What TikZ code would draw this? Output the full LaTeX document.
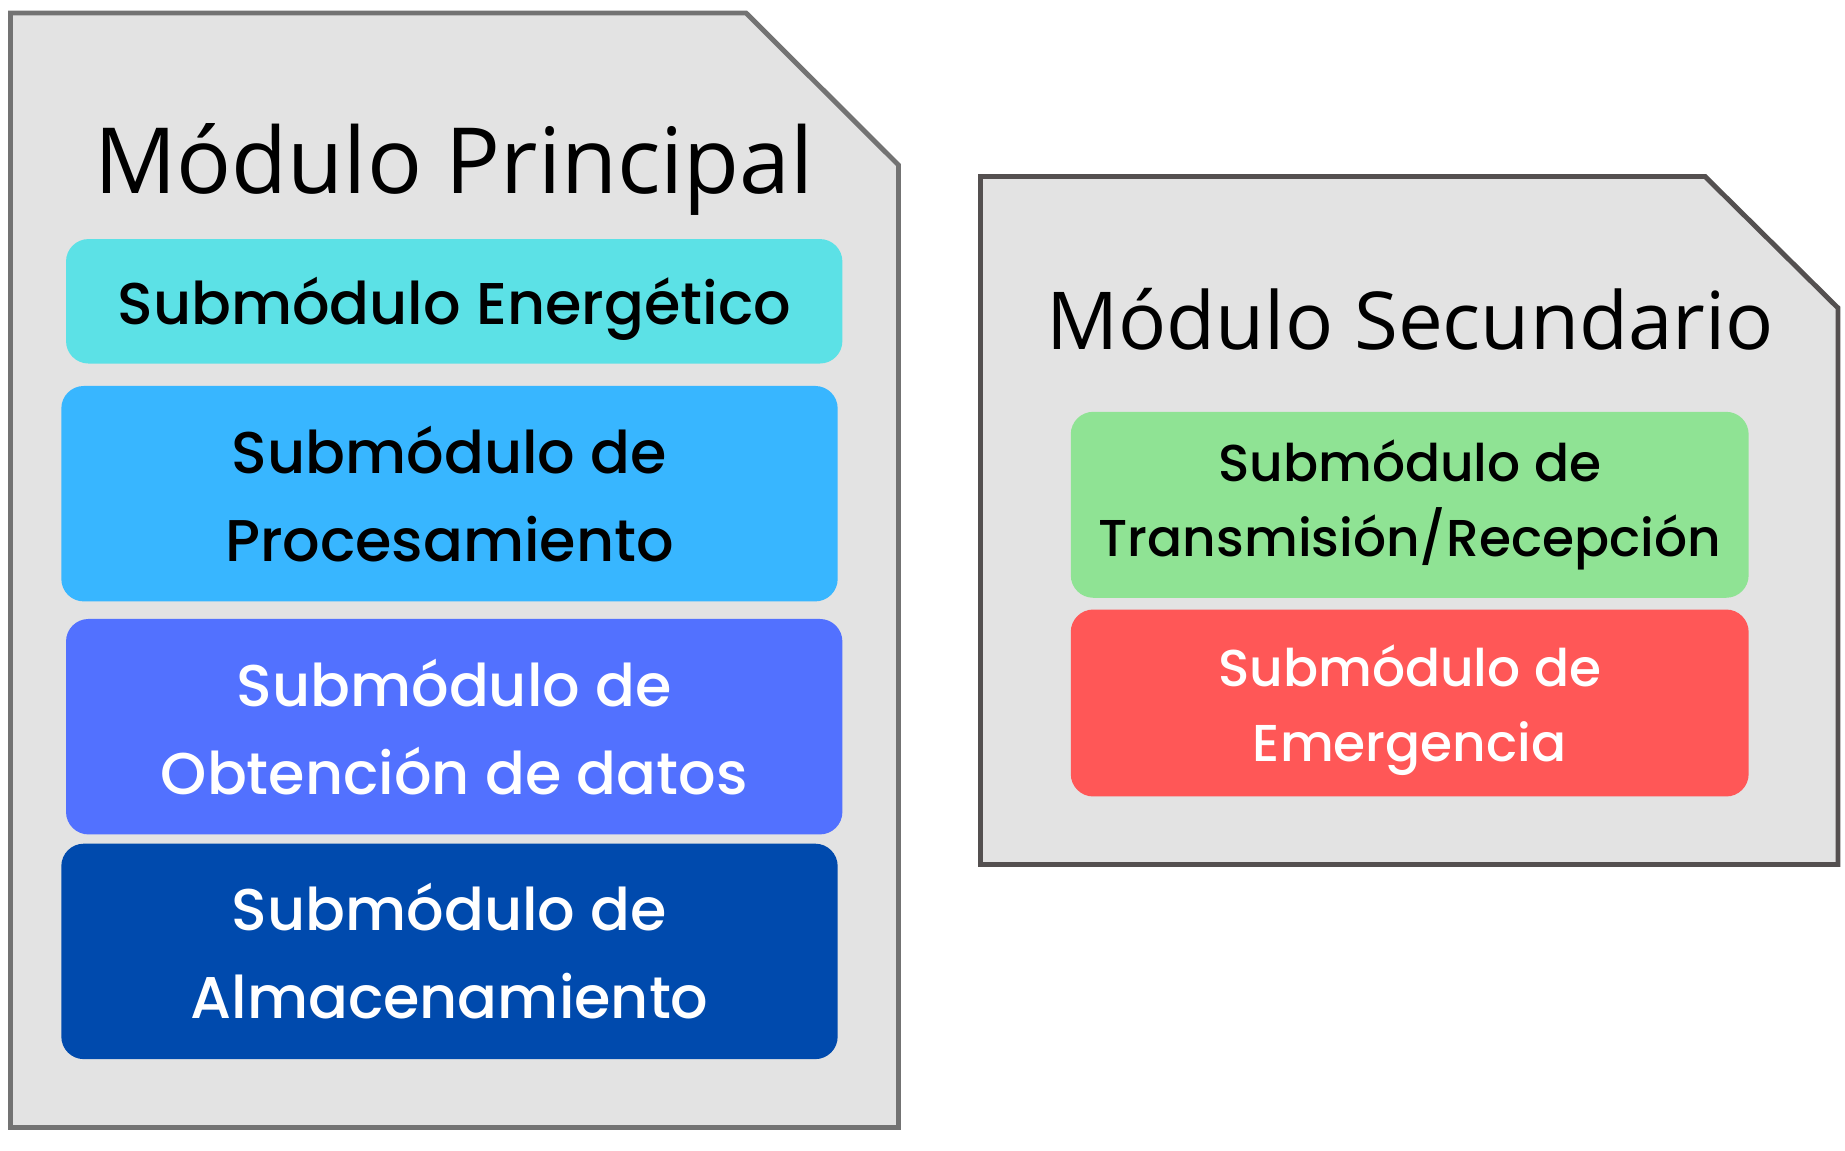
\documentclass[tikz,border=0pt]{standalone}
\usepackage{fontspec}
\newfontfamily\titlefont{Open Sans}
\newfontfamily\subfont{Poppins Medium}
\definecolor{panelgray}{HTML}{E3E3E3}
\definecolor{leftline}{HTML}{737373}
\definecolor{rightline}{HTML}{545050}
\definecolor{energia}{HTML}{5CE1E6}
\definecolor{proceso}{HTML}{38B6FF}
\definecolor{datos}{HTML}{5271FF}
\definecolor{almacen}{HTML}{004AAD}
\definecolor{transm}{HTML}{8FE394}
\definecolor{emerg}{HTML}{FF5757}
\begin{document}
\begin{tikzpicture} [
   x=0.02cm, y=-0.02cm,
   panel/.style={line width=2.8pt, fill=panelgray, line join=miter},
   title/.style={anchor=base, inner sep=0pt},
   sub/.style={rounded corners=0.45cm, align=center, inner sep=0pt,
               minimum width=15.53cm, minimum height=4.31cm,
               font=\subfont\fontsize{33.5}{50}\selectfont},
   subsec/.style={sub, minimum width=13.56cm, font=\subfont\fontsize{29.5}{43}\selectfont}
]
   \useasboundingbox (0,0) rectangle (1845,1151);
   % modulo principal
   \draw [panel, draw=leftline] (10.5,13) -- (746,13) -- (898.5,165) -- (898.5,1127.5)
      -- (10.5,1127.5) -- cycle;
   \node (tprin) [title, font=\titlefont\fontsize{52}{60}\selectfont] at (454,194)
      {Módulo Principal};
   \node (ener) [sub, fill=energia, minimum height=2.49cm, text depth=0pt] at (454.2,301.3)
      {Submódulo Energético};
   \node (proc) [sub, fill=proceso] at (449.5,493.7) {Submódulo de\\Procesamiento};
   \node (obte) [sub, fill=datos, text=white] at (454.2,726.7)
      {Submódulo de\\Obtención de datos};
   \node (alma) [sub, fill=almacen, text=white] at (449.5,951.4)
      {Submódulo de\\Almacenamiento};
   % modulo secundario
   \draw [panel, draw=rightline] (980.5,176.5) -- (1705,176.5) -- (1838,308) -- (1838,864.5)
      -- (980.5,864.5) -- cycle;
   \node (tsec) [title, font=\titlefont\fontsize{45.5}{50}\selectfont] at (1410,349.5)
      {Módulo Secundario};
   \node (tran) [subsec, fill=transm, minimum height=3.72cm] at (1409.7,504.8)
      {Submódulo de\\Transmisión/Recepción};
   \node (emer) [subsec, fill=emerg, text=white, minimum height=3.74cm, text depth=0pt]
      at (1409.7,703) {Submódulo de\\Emergencia};
\end{tikzpicture}
\end{document}
